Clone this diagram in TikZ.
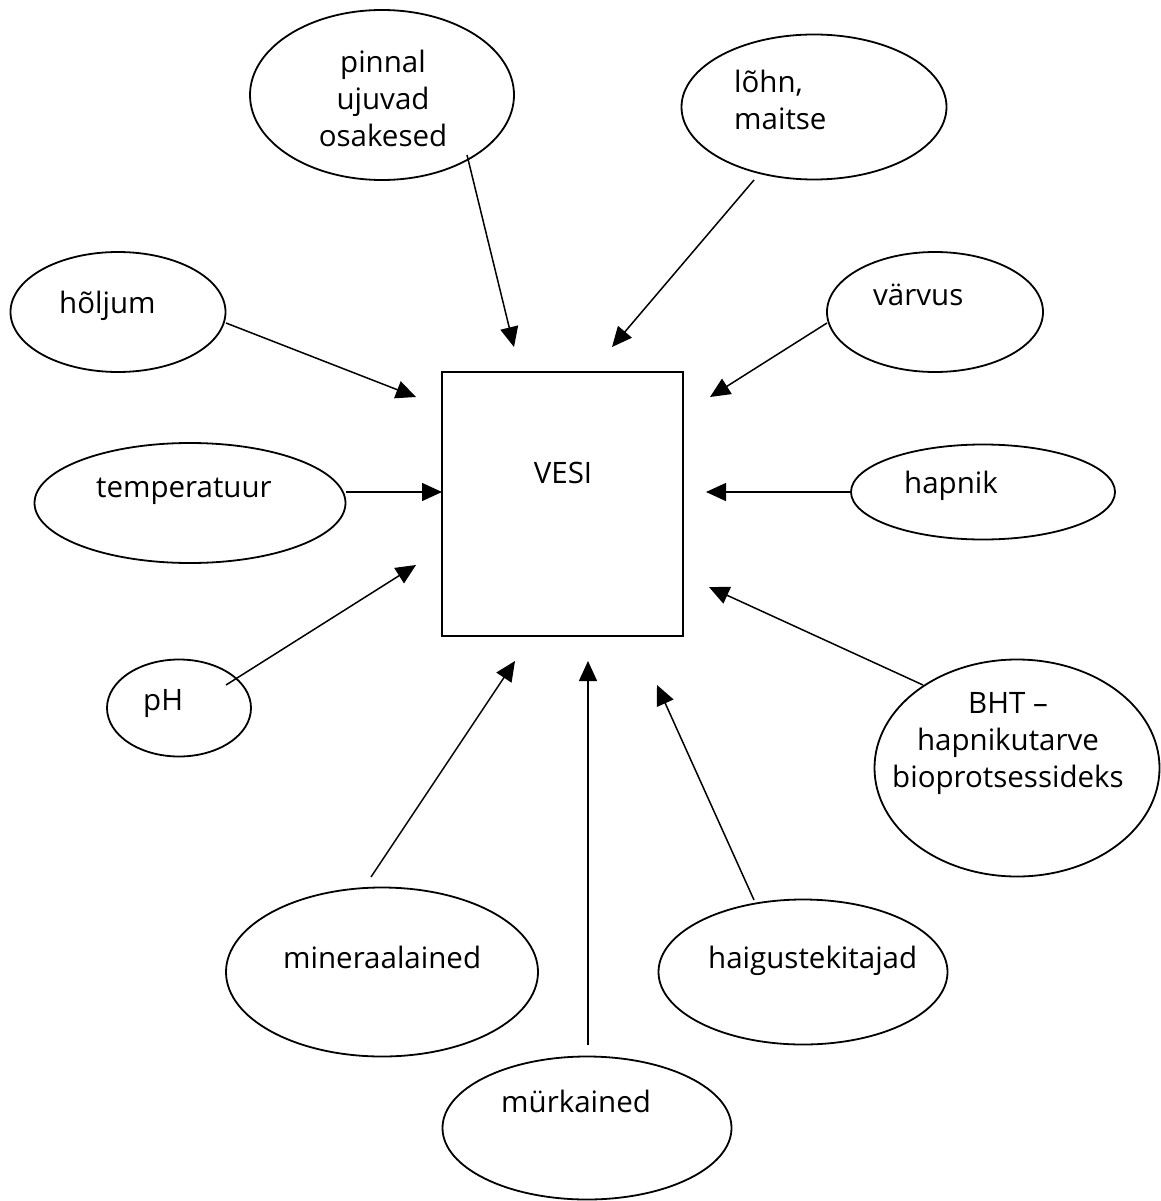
\documentclass[tikz,border=0pt]{standalone}
\usepackage{fontspec}
\setmainfont{Open Sans}
\usetikzlibrary{arrows.meta,shapes.geometric}
\begin{document}
\begin{tikzpicture}[x=1pt,y=-1pt,
  oval/.style={draw, line width=1.8pt, ellipse, inner sep=0pt},
  lbl/.style={font=\fontsize{29.5}{37}\selectfont, inner sep=0pt, anchor=base west},
  mlbl/.style={font=\fontsize{29.5}{37}\selectfont, inner sep=0pt, anchor=base},
  arr/.style={line width=1.5pt, -{Triangle[length=20pt,width=18pt]}}]
\useasboundingbox (0,0) rectangle (1160,1201);

% central box
\node[draw, line width=1.8pt, minimum width=241pt, minimum height=264pt, inner sep=0pt] (vesi) at (562.5,504) {};
\node[mlbl] (tvesi) at (563,483) {VESI};

% ellipses (multi-line labels are placed by the baseline of their last line)
\node[oval, minimum width=264pt, minimum height=170pt] (e1) at (382,95) {};
\node[mlbl, align=center] (t1) at (383,147) {pinnal\\ujuvad\\osakesed};

\node[oval, minimum width=265pt, minimum height=145pt] (e2) at (814,107) {};
\node[lbl, align=left] (t2) at (734,130) {lõhn,\\maitse};

\node[oval, minimum width=215pt, minimum height=120pt] (e3) at (118,312) {};
\node[lbl] (t3) at (59,313) {hõljum};

\node[oval, minimum width=216pt, minimum height=120pt] (e4) at (935,312) {};
\node[lbl] (t4) at (873,305) {värvus};

\node[oval, minimum width=311pt, minimum height=120pt] (e5) at (190,503) {};
\node[lbl] (t5) at (96,497) {temperatuur};

\node[oval, minimum width=264pt, minimum height=95pt] (e6) at (983,492) {};
\node[lbl] (t6) at (904,493) {hapnik};

\node[oval, minimum width=144pt, minimum height=97pt] (e7) at (179,708) {};
\node[lbl] (t7) at (143,710) {pH};

\node[oval, minimum width=285pt, minimum height=217pt] (e8) at (1017,768) {};
\node[mlbl, align=center] (t8) at (1008,787) {BHT –\\hapnikutarve\\bioprotsessideks};

\node[oval, minimum width=312pt, minimum height=169pt] (e9) at (382,972) {};
\node[lbl] (t9) at (283,968) {mineraalained};

\node[oval, minimum width=289pt, minimum height=145pt] (e10) at (803,972) {};
\node[lbl] (t10) at (708,968) {haigustekitajad};

\node[oval, minimum width=289pt, minimum height=143pt] (e11) at (587,1128) {};
\node[lbl] (t11) at (501,1112) {mürkained};

% arrow end points
\coordinate (a1s) at (467,155);  \coordinate (a1e) at (514,347);
\coordinate (a2s) at (754,180);  \coordinate (a2e) at (612,347);
\coordinate (a3s) at (226,323);  \coordinate (a3e) at (416,397);
\coordinate (a4s) at (827,323);  \coordinate (a4e) at (710,397);
\coordinate (a5s) at (346,492);  \coordinate (a5e) at (442,492);
\coordinate (a6s) at (851,492);  \coordinate (a6e) at (706,492);
\coordinate (a7s) at (226,685);  \coordinate (a7e) at (416,565);
\coordinate (a8s) at (923,685);  \coordinate (a8e) at (709,587);
\coordinate (a9s) at (371,877);  \coordinate (a9e) at (515,661);
\coordinate (a10s) at (754,900); \coordinate (a10e) at (657,685);
\coordinate (a11s) at (588,1045); \coordinate (a11e) at (588,661);

\foreach \i in {1,...,11} \draw[arr] (a\i s) -- (a\i e);
\end{tikzpicture}
\end{document}
